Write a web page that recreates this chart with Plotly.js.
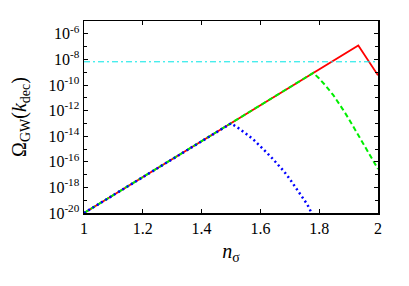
<!DOCTYPE html>
<html>
<head>
<meta charset="utf-8">
<script src="https://cdn.plot.ly/plotly-3.0.1.min.js"></script>
<style>html,body{margin:0;padding:0;background:#fff;}#chart{width:409px;height:286px;}</style>
</head>
<body>
<div id="chart"></div>
<script>
// Red: solid line
var redX = [1, 1.933, 2];
var redY = [1e-20, 1.23e-7, 5.75e-10];
// Green: dashed line
var greenX = [1, 1.78, 1.80, 1.82, 1.848, 1.865, 1.882, 1.90, 1.916, 1.93, 1.944, 1.972, 2.0];
var greenY = [1e-20, 8.9e-10, 3.2e-10, 1e-10, 1.6e-11, 4.5e-12, 1.1e-12, 2.4e-13, 5.6e-14, 1.7e-14, 5.1e-15, 3.5e-16, 2.75e-17];
// Blue: dotted line
var blueX = [1, 1.5, 1.52, 1.54, 1.56, 1.58, 1.60, 1.62, 1.64, 1.66, 1.68, 1.70, 1.72, 1.74, 1.76, 1.774];
var blueY = [1e-20, 1e-13, 5.2e-14, 2.5e-14, 1.1e-14, 4.5e-15, 1.7e-15, 5.6e-16, 1.9e-16, 6.3e-17, 1.8e-17, 4.5e-18, 1e-18, 2.2e-19, 4.5e-20, 1e-20];
// Cyan: horizontal dash-dot line
var cyanX = [1, 2];
var cyanY = [6.5e-9, 6.5e-9];

var yTickVals = [1e-20, 1e-18, 1e-16, 1e-14, 1e-12, 1e-10, 1e-8, 1e-6];
var yTickText = ['10<sup>-20</sup>', '10<sup>-18</sup>', '10<sup>-16</sup>', '10<sup>-14</sup>', '10<sup>-12</sup>', '10<sup>-10</sup>', '10<sup>-8</sup>', '10<sup>-6</sup>'];
var yMinorVals = [1e-19, 1e-17, 1e-15, 1e-13, 1e-11, 1e-9, 1e-7, 1e-5];
var xTickVals = [1, 1.2, 1.4, 1.6, 1.8, 2];
var xTickText = ['1', '1.2', '1.4', '1.6', '1.8', '2'];

var font = 'Liberation Serif, DejaVu Serif, serif';

var traces = [
  {x: redX, y: redY, mode: 'lines', line: {color: '#ff0000', width: 1.8}, hoverinfo: 'none'},
  {x: greenX, y: greenY, mode: 'lines', line: {color: '#00ee00', width: 2, dash: '5px,3px'}, hoverinfo: 'none'},
  {x: blueX, y: blueY, mode: 'lines', line: {color: '#0000ff', width: 2.5, dash: '2px,3px'}, hoverinfo: 'none'},
  {x: cyanX, y: cyanY, mode: 'lines', line: {color: '#00e6e6', width: 1, dash: '6px,3px,2px,3px'}, hoverinfo: 'none'}
];

var layout = {
  width: 409, height: 286,
  margin: {l: 84, r: 31, t: 21, b: 73},
  paper_bgcolor: '#fff', plot_bgcolor: '#fff',
  showlegend: false,
  font: {family: font, size: 16, color: '#000'},
  xaxis: {
    range: [1, 2], tickvals: xTickVals, ticktext: xTickText,
    showline: true, linecolor: '#000', linewidth: 1.5, mirror: 'ticks',
    ticks: 'inside', ticklen: 4, tickwidth: 1, tickcolor: '#000',
    showgrid: false, zeroline: false,
    tickfont: {family: font, size: 16},
    title: {text: '<i>n</i><sub>σ</sub>', font: {family: font, size: 20}, standoff: 8}
  },
  yaxis: {
    type: 'log', range: [-20, -5], tickvals: yTickVals, ticktext: yTickText,
    showline: true, linecolor: '#000', linewidth: 1.5, mirror: 'ticks',
    ticks: 'inside', ticklen: 4, tickwidth: 1, tickcolor: '#000',
    minor: {tickvals: yMinorVals, ticks: 'inside', ticklen: 3, tickwidth: 1, tickcolor: '#000', showgrid: false},
    showgrid: false, zeroline: false,
    tickfont: {family: font, size: 16},
    title: {text: 'Ω<sub>GW</sub>(<i>k</i><sub>dec</sub>)', font: {family: font, size: 20}, standoff: 16}
  }
};

Plotly.newPlot('chart', traces, layout, {displayModeBar: false, staticPlot: true});
</script>
</body>
</html>
